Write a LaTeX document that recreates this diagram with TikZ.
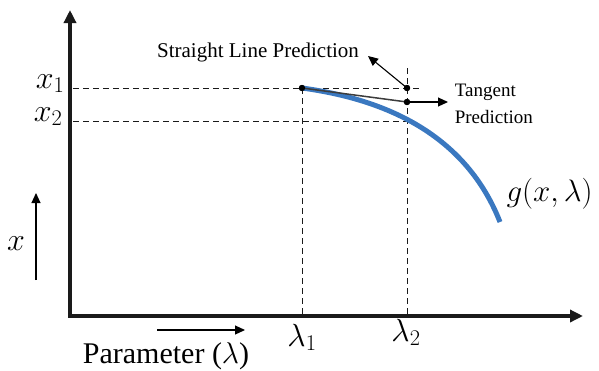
\RequirePackage{fix-cm}
\documentclass[tikz,border=0pt]{standalone}
\usepackage{fontspec}
\setmainfont{Liberation Serif}
\usetikzlibrary{arrows.meta, positioning}
\definecolor{cblue}{HTML}{3A78C0}
\definecolor{cdark}{HTML}{1A1A1A}
\definecolor{cgrey}{HTML}{3C3C3C}
\tikzset{
  every picture/.style={line width=1pt},
  axis/.style={draw=cdark, line width=3.5pt, line join=miter,
    {Triangle[length=13pt,width=12pt]}-{Triangle[length=13pt,width=12pt]}},
  guide/.style={draw=cdark, line width=1pt, dash pattern=on 6pt off 4pt},
  dot/.style={circle, fill=black, inner sep=0pt, minimum size=6pt},
  pointer/.style={-{Triangle[length=10pt,width=9pt]}, line width=1.1pt},
  lbl/.style={font=\fontsize{19}{27}\selectfont, align=left},
  mlabel/.style={font=\fontsize{32}{36}\selectfont, inner sep=1pt},
}

\begin{document}
\begin{tikzpicture}[x=1pt, y=-1pt]
  \useasboundingbox (0,0) rectangle (599,370);
  % ---- axes
  \coordinate (ytop) at (70,10);
  \coordinate (origin) at (70,316);
  \coordinate (xend) at (583,316);
  \draw[axis] (ytop) -- (origin) -- (xend);
  % ---- guide lines
  \coordinate (x1l) at (73,88);   \coordinate (x1r) at (420,88);
  \coordinate (x2l) at (73,121);  \coordinate (x2r) at (412,121);
  \coordinate (l1t) at (302,88);  \coordinate (l1b) at (302,314);
  \coordinate (l2t) at (407,68);  \coordinate (l2b) at (407,314);
  \draw[guide] (x1l) -- (x1r);
  \draw[guide] (x2l) -- (x2r);
  \draw[guide] (l1t) -- (l1b);
  \draw[guide] (l2t) -- (l2b);
  % ---- curve and predictions
  \node[dot] (start) at (302,88) {};
  \node[dot] (slpt) at (407,88) {};
  \node[dot] (tgpt) at (407,102) {};
  \draw[cblue, line width=5pt] (start.center) .. controls (360,96) and (460,120) .. (500,222);
  \draw[cgrey, line width=1.5pt] (start.center) -- (tgpt.center);
  \fill (start) circle (3.2pt) (slpt) circle (3.2pt) (tgpt) circle (3.2pt);
  \node[lbl, font=\fontsize{21}{24}\selectfont, anchor=base] (sltext) at (258,57) {Straight Line Prediction};
  \node[lbl, anchor=west] (tgtext) at (451,104) {Tangent\\Prediction};
  \coordinate (slhead) at (368,56);
  \coordinate (tghead) at (448,102);
  \draw[pointer] (slpt.center) -- (slhead);
  \draw[pointer] (tgpt.center) -- (tghead);
  % ---- labels
  \node[mlabel, anchor=base east] (x1lab) at (66,88) {$x_1$};
  \node[mlabel, anchor=base east] (x2lab) at (64,121) {$x_2$};
  \node[mlabel, anchor=base] (l1lab) at (302,346) {$\lambda_1$};
  \node[mlabel, anchor=base] (l2lab) at (406,341) {$\lambda_2$};
  \node[mlabel, font=\fontsize{31}{34}\selectfont, anchor=base west] (glab) at (505,201) {$g(x,\lambda)$};
  \node[mlabel, anchor=base] (xlab) at (16,250) {$x$};
  \coordinate (xa) at (36,280); \coordinate (xb) at (36,193);
  \draw[pointer] (xa) -- (xb);
  \node[font=\fontsize{30}{34}\selectfont, anchor=base] (partext) at (166,363) {Parameter ($\lambda$)};
  \coordinate (pa) at (157,330); \coordinate (pb) at (245,330);
  \draw[pointer] (pa) -- (pb);
\end{tikzpicture}
\end{document}
